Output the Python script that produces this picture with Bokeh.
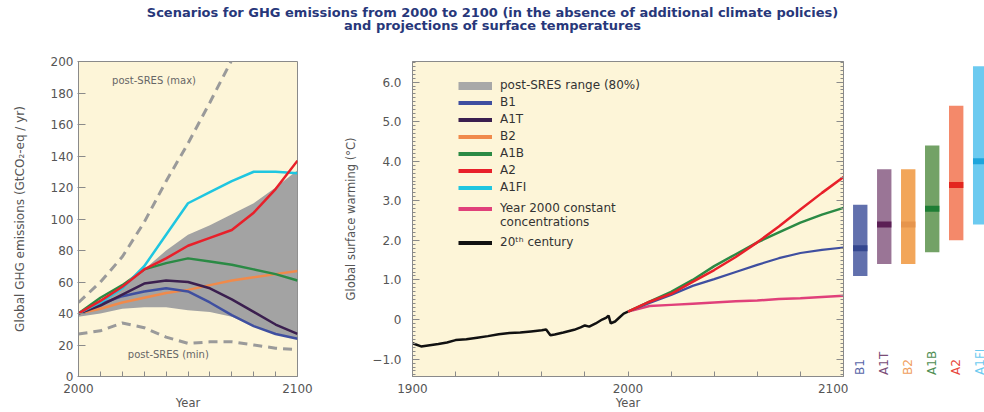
import math
from bokeh.plotting import figure
from bokeh.layouts import column, row
from bokeh.models import FixedTicker, Legend, LegendItem, Range1d, LinearAxis, Label
from bokeh.core.properties import value
from bokeh.embed import file_html
from bokeh.resources import INLINE

FONT = "DejaVu Sans"
CREAM = "#fdf5d8"
FRAME = "#8a8a8a"
TXT = "#555555"
NAN = float("nan")

# ---------------- data ----------------
title_lines = ["Scenarios for GHG emissions from 2000 to 2100 (in the absence of additional climate policies)",
               "and projections of surface temperatures"]

# Left panel: emissions (GtCO2-eq / yr)
em_years = [2000, 2010, 2020, 2030, 2040, 2050, 2060, 2070, 2080, 2090, 2100]
em_range_hi = [41, 48, 56, 68, 80, 90, 96, 103, 110, 120, 131]
em_range_lo = [38, 40, 43, 44, 44, 42, 41, 38, 32, 27, 24]
em_B1 = [40, 46, 51, 54, 56, 54, 47, 39, 32, 27, 24]
em_A1T = [40, 45, 52, 59, 61, 60, 56, 49, 41, 33, 27]
em_B2 = [40, 43, 47, 50, 53, 55, 58, 61, 63, 65, 67]
em_A1B = [40, 50, 58, 68, 72, 75, 73, 71, 68, 65, 61]
em_A2 = [40, 48, 57, 68, 75, 83, 88, 93, 104, 119, 137]
em_A1FI = [40, 47, 56, 70, 90, 110, 117, 124, 130, 130, 129]
max_years = [2000, 2010, 2020, 2030, 2040, 2050, 2060, 2070, 2080]
em_max = [47, 60, 76, 98, 124, 148, 174, 201, 228]
em_min = [27, 29, 34, 31, 25, 21, 22, 22, 20, 18, 17]
em_yticks = [0, 20, 40, 60, 80, 100, 120, 140, 160, 180, 200]
em_xticks = [2000, 2010, 2020, 2030, 2040, 2050, 2060, 2070, 2080, 2090, 2100]
em_xlabels = {2000: "2000", 2100: "2100"}

# Middle panel: temperature (deg C)
hist_years = [1900, 1904, 1908, 1912, 1916, 1920, 1925, 1930, 1935, 1940, 1945, 1950, 1955,
              1960, 1962, 1964, 1966, 1970, 1975, 1978, 1980, 1982, 1985, 1988, 1990, 1991,
              1992, 1994, 1996, 1998, 2000]
t_hist = [-0.60, -0.68, -0.65, -0.62, -0.58, -0.52, -0.50, -0.46, -0.42, -0.37, -0.34, -0.33, -0.30,
          -0.27, -0.25, -0.40, -0.38, -0.33, -0.26, -0.20, -0.15, -0.18, -0.10, 0.00, 0.05, 0.10,
          -0.10, -0.05, 0.05, 0.15, 0.20]
proj_years = [2000, 2010, 2020, 2030, 2040, 2050, 2060, 2070, 2080, 2090, 2100]
t_B1 = [0.20, 0.42, 0.62, 0.85, 1.02, 1.20, 1.38, 1.55, 1.68, 1.76, 1.82]
t_A1B = [0.20, 0.45, 0.70, 1.00, 1.35, 1.65, 1.95, 2.20, 2.45, 2.65, 2.82]
t_A2 = [0.20, 0.45, 0.65, 0.95, 1.25, 1.58, 1.95, 2.35, 2.78, 3.20, 3.60]
t_const = [0.20, 0.34, 0.37, 0.40, 0.43, 0.46, 0.48, 0.52, 0.54, 0.57, 0.60]
t_yticks = [-1, 0, 1, 2, 3, 4, 5, 6]
t_ylabels = ["\u22121.0", "0", "1.0", "2.0", "3.0", "4.0", "5.0", "6.0"]
t_xticks = [1900, 1920, 1940, 1960, 1980, 2000, 2020, 2040, 2060, 2080, 2100]
t_xlabels = {1900: "1900", 2000: "2000", 2100: "2100"}

# Right: likely ranges at 2090-2099
bar_names = ["B1", "A1T", "B2", "A1B", "A2", "A1FI"]
bar_low = [1.1, 1.4, 1.4, 1.7, 2.0, 2.4]
bar_high = [2.9, 3.8, 3.8, 4.4, 5.4, 6.4]
bar_best = [1.8, 2.4, 2.4, 2.8, 3.4, 4.0]
bar_colors = ["#6170ad", "#9a7596", "#f2a65a", "#73a266", "#f4896a", "#6ccaf0"]
best_colors = ["#34478f", "#5b1f55", "#e6954c", "#1e7d34", "#e3261f", "#1ea5dc"]
label_colors = ["#5766a8", "#7a4c77", "#f0a060", "#4e8e52", "#e8463c", "#6ccaf0"]

C = {"B1": "#3f4fa0", "A1T": "#3b1f4f", "B2": "#f08a4b", "A1B": "#2b8a45",
     "A2": "#e8202a", "A1FI": "#1fc6e0", "const": "#e0407a", "hist": "#111111"}


def style_axis(ax, size="12px"):
    ax.axis_line_color = FRAME
    ax.major_tick_line_color = FRAME
    ax.minor_tick_line_color = FRAME
    ax.major_label_text_font = FONT
    ax.major_label_text_font_size = size
    ax.major_label_text_color = TXT
    ax.axis_label_text_font = FONT
    ax.axis_label_text_font_style = "normal"
    ax.axis_label_text_color = TXT


# ---------------- title ----------------
pt = figure(width=984, height=48, x_range=Range1d(0, 984), y_range=Range1d(0, 48),
            output_backend="svg", toolbar_location=None, x_axis_location=None, y_axis_location=None,
            min_border=0, outline_line_color=None)
pt.grid.visible = False
pt.text(x=[492, 492], y=[36, 23.5], text=title_lines, text_align="center", text_baseline="middle",
        text_font=value(FONT), text_font_style="bold", text_font_size="13px", text_color="#27377a")

# ---------------- left panel ----------------
p1 = figure(width=320, height=364, x_range=Range1d(2000, 2100), y_range=Range1d(0, 200),
            output_backend="svg", toolbar_location=None,
            min_border_left=78, min_border_right=23, min_border_top=13, min_border_bottom=35,
            background_fill_color=CREAM, border_fill_color="white")
p1.grid.visible = False
p1.outline_line_color = FRAME
p1.varea(x=em_years, y1=em_range_lo, y2=em_range_hi, fill_color="#a3a3a3")
p1.line(max_years, em_max, line_color="#9a9a9a", line_width=3, line_dash="9 6")
p1.line(em_years, em_min, line_color="#9a9a9a", line_width=3, line_dash="9 6")
for key, ys in [("B2", em_B2), ("B1", em_B1), ("A1T", em_A1T), ("A1B", em_A1B), ("A1FI", em_A1FI), ("A2", em_A2)]:
    p1.line(em_years, ys, line_color=C[key], line_width=2.5)

xa = p1.xaxis[0]
style_axis(xa)
xa.ticker = FixedTicker(ticks=em_xticks, minor_ticks=[])
xa.major_label_overrides = {t: em_xlabels.get(t, "") for t in em_xticks}
xa.major_tick_in = 5
xa.major_tick_out = 0
xa.major_label_standoff = 7
xa.axis_label = "Year"
xa.axis_label_text_font_size = "11.5px"
xa.axis_label_standoff = 0
ya = p1.yaxis[0]
style_axis(ya)
ya.ticker = FixedTicker(ticks=em_yticks, minor_ticks=[])
ya.major_tick_in = 7
ya.major_tick_out = 1
ya.major_label_standoff = 4
ya.axis_label = "Global GHG emissions (GtCO\u2082-eq / yr)"
ya.axis_label_text_font_size = "12px"
ya.axis_label_standoff = 21
p1.add_layout(Label(x=2034.5, y=188, text="post-SRES (max)", text_align="center", text_baseline="middle",
                    text_font=FONT, text_font_size="10px", text_color="#666666"))
p1.add_layout(Label(x=2041, y=14, text="post-SRES (min)", text_align="center", text_baseline="middle",
                    text_font=FONT, text_font_size="10px", text_color="#666666"))

# ---------------- middle panel ----------------
p2 = figure(width=528, height=364, x_range=Range1d(1900, 2100), y_range=Range1d(-1.44, 6.52),
            output_backend="svg", toolbar_location=None,
            min_border_left=92, min_border_right=5, min_border_top=13, min_border_bottom=35,
            background_fill_color=CREAM, border_fill_color="white")
p2.grid.visible = False
p2.outline_line_color = FRAME
r_hist = p2.line(hist_years, t_hist, line_color=C["hist"], line_width=2.5)
p2.line(proj_years, t_const, line_color=C["const"], line_width=2.5)
p2.line(proj_years, t_B1, line_color=C["B1"], line_width=2.2)
p2.line(proj_years, t_A1B, line_color=C["A1B"], line_width=2.5)
p2.line(proj_years, t_A2, line_color=C["A2"], line_width=2.5)

minor = [round(-1.4 + 0.1 * i, 1) for i in range(80)]
xb = p2.xaxis[0]
style_axis(xb)
xb.ticker = FixedTicker(ticks=t_xticks, minor_ticks=[])
xb.major_label_overrides = {t: t_xlabels.get(t, "") for t in t_xticks}
xb.major_tick_in = 5
xb.major_tick_out = 0
xb.major_label_standoff = 7
xb.axis_label = "Year"
xb.axis_label_text_font_size = "11.5px"
xb.axis_label_standoff = 0
yb = p2.yaxis[0]
style_axis(yb)
yb.ticker = FixedTicker(ticks=t_yticks, minor_ticks=minor)
yb.major_label_overrides = dict(zip(t_yticks, t_ylabels))
yb.major_tick_in = 7
yb.major_tick_out = 0
yb.minor_tick_in = 3
yb.minor_tick_out = 0
yb.major_label_standoff = 11
yb.axis_label = "Global surface warming (\u00b0C)"
yb.axis_label_text_font_size = "11.5px"
yb.axis_label_standoff = 11
yr = LinearAxis(ticker=FixedTicker(ticks=t_yticks, minor_ticks=minor))
style_axis(yr, "0px")
yr.major_label_overrides = {t: "" for t in t_yticks}
yr.major_tick_in = 7
yr.major_tick_out = 0
yr.minor_tick_in = 3
yr.minor_tick_out = 0
yr.major_label_standoff = 0
p2.add_layout(yr, "right")


# legend: placeholder renderers (no visible mark) carry the legend glyph styling
def dummy(color, w=4):
    return p2.line(x=[NAN], y=[NAN], line_color=color, line_width=w)


leg_common = dict(border_line_color=None, background_fill_alpha=0, padding=0, margin=0,
                  glyph_width=34, label_standoff=8, label_text_font=FONT, label_text_font_size="12px",
                  label_text_color="#333333", glyph_height=13, label_height=13)
items1 = [LegendItem(label="post-SRES range (80%)", renderers=[dummy("#a8a8a8", 8)])]
for key in ["B1", "A1T", "B2", "A1B", "A2", "A1FI"]:
    items1.append(LegendItem(label=key, renderers=[dummy(C[key])]))
leg1 = Legend(items=items1, location=(46, 182), spacing=3, **leg_common)
items2 = [LegendItem(label="Year 2000 constant", renderers=[dummy(C["const"])]),
          LegendItem(label="concentrations", renderers=[dummy(C["const"], 0)])]
leg2 = Legend(items=items2, location=(46, 147), spacing=0, **leg_common)
items3 = [LegendItem(label="20\u1d57\u02b0 century", renderers=[dummy(C["hist"])])]
leg3 = Legend(items=items3, location=(46, 127), spacing=0, **leg_common)
for lg in (leg1, leg2, leg3):
    p2.add_layout(lg)

# ---------------- right bars ----------------
p3 = figure(width=136, height=364, x_range=Range1d(-0.49, 5.18), y_range=Range1d(-1.44, 6.52),
            output_backend="svg", toolbar_location=None, x_axis_location=None, y_axis_location=None,
            min_border_left=0, min_border_right=0, min_border_top=13, min_border_bottom=35,
            outline_line_color=None, background_fill_color="white", border_fill_color="white")
p3.grid.visible = False
idx = list(range(len(bar_names)))
p3.vbar(x=idx, bottom=bar_low, top=bar_high, width=0.6, fill_color=bar_colors, line_color=None)
p3.rect(x=idx, y=bar_best, width=0.6, height=0.15, fill_color=best_colors, line_color=None)
p3.text(x=idx, y=[-1.40] * len(idx), text=bar_names, angle=math.pi / 2, text_align="left",
        text_baseline="middle", text_font=value(FONT), text_font_size="12px", text_color=label_colors)

layout = column(pt, row(p1, p2, p3))
open("out.html", "w").write(file_html(layout, INLINE))
